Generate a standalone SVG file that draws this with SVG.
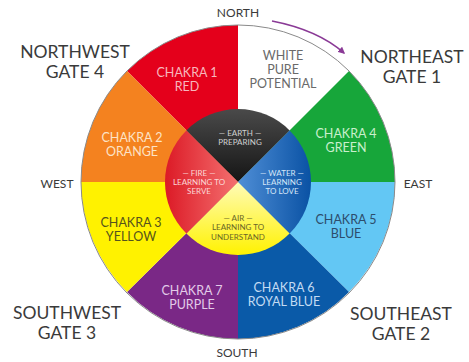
<svg xmlns="http://www.w3.org/2000/svg" width="469" height="362" viewBox="0 0 469 362">
<defs>
<linearGradient id="gEarth" x1="0" y1="109" x2="0" y2="182" gradientUnits="userSpaceOnUse"><stop offset="0" stop-color="#4a4a4a"/><stop offset="1" stop-color="#151515"/></linearGradient>
<linearGradient id="gFire" x1="165" y1="0" x2="238" y2="0" gradientUnits="userSpaceOnUse"><stop offset="0" stop-color="#dc1a26"/><stop offset="1" stop-color="#f47070"/></linearGradient>
<linearGradient id="gWater" x1="311" y1="0" x2="238" y2="0" gradientUnits="userSpaceOnUse"><stop offset="0" stop-color="#0a52a4"/><stop offset="1" stop-color="#4f8ed6"/></linearGradient>
<linearGradient id="gAir" x1="0" y1="255" x2="0" y2="182" gradientUnits="userSpaceOnUse"><stop offset="0" stop-color="#fff200"/><stop offset="1" stop-color="#fffbb8"/></linearGradient>
<marker id="ah" viewBox="0 0 10 10" refX="8" refY="5" markerWidth="7" markerHeight="7" orient="auto-start-reverse" markerUnits="userSpaceOnUse"><path d="M0,0 L10,5 L0,10 Z" fill="#8a3a96"/></marker>
</defs>
<style>
text{font-family:Lato,"Noto Sans","Liberation Sans",sans-serif;text-anchor:middle}
.dir{font-size:12px;fill:#3a3a3a}
.gate{font-size:17.5px;fill:#3a3a3a}
.ch{font-size:12.5px}
.in{font-size:8px}
</style>
<g id="wheel">
<path id="s-red" d="M238,182 L126.98,70.98 A157,157 0 0 1 238,25 Z" fill="#e4001b"/>
<path id="s-white" d="M238,182 L238,25 A157,157 0 0 1 349.02,70.98 Z" fill="#ffffff"/>
<path id="s-green" d="M238,182 L349.02,70.98 A157,157 0 0 1 395,182 Z" fill="#17a63a"/>
<path id="s-lblue" d="M238,182 L395,182 A157,157 0 0 1 349.02,292.02 Z" fill="#63c7f4"/>
<path id="s-rblue" d="M238,182 L349.02,292.02 A157,157 0 0 1 238,339 Z" fill="#0a5aa8"/>
<path id="s-purple" d="M238,182 L238,339 A157,157 0 0 1 126.98,292.02 Z" fill="#7a2886"/>
<path id="s-yellow" d="M238,182 L126.98,292.02 A157,157 0 0 1 81,182 Z" fill="#fff200"/>
<path id="s-orange" d="M238,182 L81,182 A157,157 0 0 1 126.98,70.98 Z" fill="#f4821f"/>
<circle cx="238" cy="182" r="157" fill="none" stroke="#8a8a8a" stroke-width="1"/>
</g>
<g id="inner">
<path id="earth" d="M238,182 L186.38,130.38 A73,73 0 0 1 289.62,130.38 Z" fill="url(#gEarth)"/>
<path id="water" d="M238,182 L289.62,130.38 A73,73 0 0 1 289.62,233.62 Z" fill="url(#gWater)"/>
<path id="air" d="M238,182 L289.62,233.62 A73,73 0 0 1 186.38,233.62 Z" fill="url(#gAir)"/>
<path id="fire" d="M238,182 L186.38,233.62 A73,73 0 0 1 186.38,130.38 Z" fill="url(#gFire)"/>
</g>
<g id="connectors">
<path d="M272,21 Q318,30 344,53" fill="none" stroke="#8a3a96" stroke-width="1.6" marker-end="url(#ah)"/>
</g>
<g id="labels-dir">
<text class="dir" x="238" y="17">NORTH</text>
<text class="dir" x="237" y="357">SOUTH</text>
<text class="dir" x="57" y="188">WEST</text>
<text class="dir" x="418" y="188">EAST</text>
</g>
<g id="gate4"><text class="gate" x="75" y="58">NORTHWEST</text><text class="gate" x="75" y="78">GATE 4</text></g>
<g id="gate1"><text class="gate" x="412" y="63">NORTHEAST</text><text class="gate" x="412" y="83">GATE 1</text></g>
<g id="gate3"><text class="gate" x="67" y="319">SOUTHWEST</text><text class="gate" x="67" y="339">GATE 3</text></g>
<g id="gate2"><text class="gate" x="401" y="320">SOUTHEAST</text><text class="gate" x="401" y="340">GATE 2</text></g>
<g id="chakra1"><text class="ch" x="187" y="77" fill="#f7b7bd">CHAKRA 1</text><text class="ch" x="187" y="91" fill="#f7b7bd">RED</text></g>
<g id="white"><text class="ch" x="283" y="60" fill="#6a6a6a">WHITE</text><text class="ch" x="283" y="74" fill="#6a6a6a">PURE</text><text class="ch" x="283" y="88" fill="#6a6a6a">POTENTIAL</text></g>
<g id="chakra2"><text class="ch" x="132" y="142" fill="#fde3c6">CHAKRA 2</text><text class="ch" x="132" y="156" fill="#fde3c6">ORANGE</text></g>
<g id="chakra3"><text class="ch" x="131" y="227" fill="#55531c">CHAKRA 3</text><text class="ch" x="131" y="241" fill="#55531c">YELLOW</text></g>
<g id="chakra4"><text class="ch" x="346" y="138" fill="#c9efcc">CHAKRA 4</text><text class="ch" x="346" y="152" fill="#c9efcc">GREEN</text></g>
<g id="chakra5"><text class="ch" x="346" y="224" fill="#2d4d6c">CHAKRA 5</text><text class="ch" x="346" y="238" fill="#2d4d6c">BLUE</text></g>
<g id="chakra7"><text class="ch" x="192" y="295" fill="#e2cbe8">CHAKRA 7</text><text class="ch" x="192" y="309" fill="#e2cbe8">PURPLE</text></g>
<g id="chakra6"><text class="ch" x="284" y="292" fill="#c3dbf3">CHAKRA 6</text><text class="ch" x="284" y="306" fill="#c3dbf3">ROYAL BLUE</text></g>
<g id="earth-t"><text class="in" x="240" y="136" fill="#cfcfcf">— EARTH —</text><text class="in" x="240" y="145" fill="#cfcfcf">PREPARING</text></g>
<g id="fire-t"><text class="in" x="199" y="176" fill="#fbd6d6">— FIRE —</text><text class="in" x="199" y="185" fill="#fbd6d6">LEARNING TO</text><text class="in" x="199" y="194" fill="#fbd6d6">SERVE</text></g>
<g id="water-t"><text class="in" x="282" y="176" fill="#d6e6f8">— WATER —</text><text class="in" x="282" y="185" fill="#d6e6f8">LEARNING</text><text class="in" x="282" y="194" fill="#d6e6f8">TO LOVE</text></g>
<g id="air-t"><text class="in" x="238" y="221" fill="#6a6628">— AIR —</text><text class="in" x="238" y="230" fill="#6a6628">LEARNING TO</text><text class="in" x="238" y="240" fill="#6a6628">UNDERSTAND</text></g>
</svg>
